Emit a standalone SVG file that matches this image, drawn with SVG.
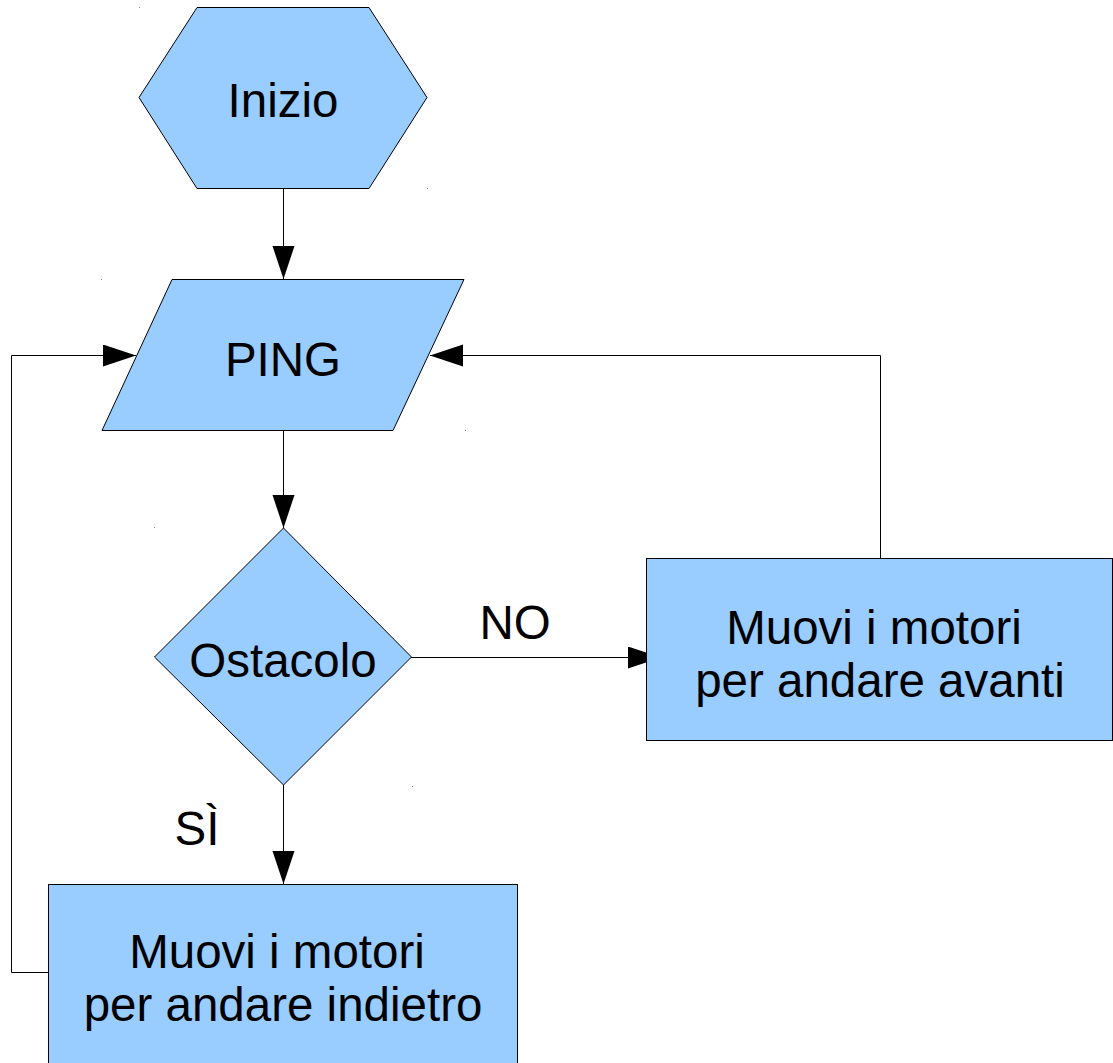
<svg xmlns="http://www.w3.org/2000/svg" width="1113" height="1063" viewBox="0 0 1113 1063">
<style>
.shape{fill:#99ccff;stroke:#000;stroke-width:1}
.lbl{font-family:"Liberation Sans",Arial,sans-serif;font-size:47.5px;fill:#000;text-anchor:middle}
.conn{fill:none;stroke:#000;stroke-width:1}
.dot{fill:#888}
</style>
<defs>
<marker id="arr" markerUnits="userSpaceOnUse" markerWidth="34" markerHeight="23" refX="33" refY="11" orient="auto">
<path d="M0,0 L33,11 L0,22 Z" fill="#000"/>
</marker>
</defs>
<g id="connectors">
<path class="conn" d="M283.5,188 V279" marker-end="url(#arr)"/>
<path class="conn" d="M283.5,430 V528" marker-end="url(#arr)"/>
<path class="conn" d="M411,657.5 H661" marker-end="url(#arr)"/>
<path class="conn" d="M283.5,785 V884" marker-end="url(#arr)"/>
<path class="conn" d="M880.5,558 V355.5 H430" marker-end="url(#arr)"/>
<path class="conn" d="M48,972.5 H11.5 V355.5 H136" marker-end="url(#arr)"/>
<text class="lbl" x="515" y="639">NO</text>
<text class="lbl" x="197" y="845">SÌ</text>
</g>
<g id="inizio">
<polygon class="shape" points="197,7.5 369,7.5 427,97.5 369,188.5 197,188.5 139,97.5"/>
<text class="lbl" x="283" y="117">Inizio</text>
</g>
<g id="ping">
<polygon class="shape" points="172,279.5 464,279.5 393,430.5 102,430.5"/>
<text class="lbl" x="283" y="376">PING</text>
</g>
<g id="ostacolo">
<polygon class="shape" points="283.5,528 411.5,657 283.5,785 154.5,657"/>
<text class="lbl" x="283" y="677">Ostacolo</text>
</g>
<g id="avanti">
<rect class="shape" x="646.5" y="558.5" width="466" height="182"/>
<text class="lbl" x="874" y="644">Muovi i motori</text>
<text class="lbl" x="880" y="697">per andare avanti</text>
</g>
<g id="indietro">
<rect class="shape" x="48.5" y="884.5" width="469" height="190"/>
<text class="lbl" x="277" y="968">Muovi i motori</text>
<text class="lbl" x="283" y="1021">per andare indietro</text>
</g>
<g id="marks">
<rect class="dot" x="139" y="7" width="1" height="1"/>
<rect class="dot" x="427" y="188" width="1" height="1"/>
<rect class="dot" x="101" y="279" width="1" height="1"/>
<rect class="dot" x="465" y="430" width="1" height="1"/>
<rect class="dot" x="154" y="527" width="1" height="1"/>
<rect class="dot" x="412" y="786" width="1" height="1"/>
</g>
</svg>
